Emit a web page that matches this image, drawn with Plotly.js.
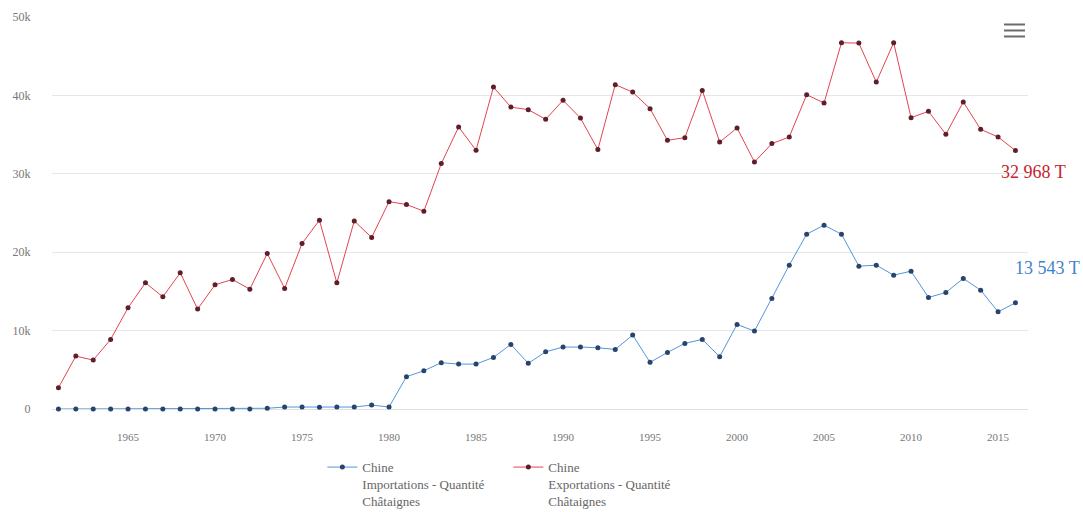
<!DOCTYPE html>
<html>
<head>
<meta charset="utf-8">
<script src="https://cdn.plot.ly/plotly-3.0.1.min.js"></script>
<style>
  html, body { margin: 0; padding: 0; background: #ffffff; }
  #chart { width: 1083px; height: 512px; }
</style>
</head>
<body>
<div id="chart"></div>
<script>
// Years covered by both series
const years = [
  1961, 1962, 1963, 1964, 1965, 1966, 1967, 1968, 1969, 1970,
  1971, 1972, 1973, 1974, 1975, 1976, 1977, 1978, 1979, 1980,
  1981, 1982, 1983, 1984, 1985, 1986, 1987, 1988, 1989, 1990,
  1991, 1992, 1993, 1994, 1995, 1996, 1997, 1998, 1999, 2000,
  2001, 2002, 2003, 2004, 2005, 2006, 2007, 2008, 2009, 2010,
  2011, 2012, 2013, 2014, 2015, 2016
];

// Chine – Importations, quantité de châtaignes (tonnes)
const importations = [
  0, 0, 0, 0, 0, 0, 0, 0, 0, 0,
  0, 0, 90, 250, 250, 210, 250, 250, 500, 250,
  4120, 4880, 5900, 5730, 5730, 6580, 8240, 5820, 7300, 7900,
  7900, 7810, 7600, 9430, 5950, 7220, 8370, 8880, 6670, 10790,
  9940, 14100, 18350, 22300, 23440, 22300, 18220, 18350, 17070, 17580,
  14230, 14860, 16650, 15160, 12400, 13543
];

// Chine – Exportations, quantité de châtaignes (tonnes)
const exportations = [
  2710, 6750, 6240, 8880, 12910, 16090, 14310, 17370, 12740, 15840,
  16520, 15290, 19840, 15380, 21110, 24080, 16090, 23990, 21880, 26450,
  26080, 25230, 31300, 35970, 33000, 41060, 38510, 38180, 36950, 39370,
  37110, 33090, 41370, 40420, 38310, 34270, 34610, 40640, 34050, 35840,
  31510, 33850, 34690, 40090, 39030, 46720, 46670, 41700, 46720, 37160,
  37970, 35040, 39160, 35670, 34690, 32968
];

const seriesNames = [
  'Chine<br>Importations - Quantité<br>Châtaignes',
  'Chine<br>Exportations - Quantité<br>Châtaignes'
];

const yTickVals = [0, 10000, 20000, 30000, 40000, 50000];
const yTickText = ['0', '10k', '20k', '30k', '40k', '50k'];
const xTickVals = [1965, 1970, 1975, 1980, 1985, 1990, 1995, 2000, 2005, 2010, 2015];

const serif = 'Liberation Serif, DejaVu Serif, serif';

function withSpaces(v) {
  return String(v).replace(/\B(?=(\d{3})+(?!\d))/g, ' ') + ' T';
}

const lastIdx = years.length - 1;

const traces = [
  {
    x: years, y: importations, name: seriesNames[0],
    type: 'scatter', mode: 'lines+markers', cliponaxis: false,
    line: { color: '#5296dc', width: 1 },
    marker: { color: '#26446c', size: 5 }
  },
  {
    x: years, y: exportations, name: seriesNames[1],
    type: 'scatter', mode: 'lines+markers', cliponaxis: false,
    line: { color: '#e4444e', width: 1 },
    marker: { color: '#5e1f2b', size: 5 }
  }
];

// Menu icon lines (top right)
const menuShapes = [0, 6, 12].map(function (d) {
  return {
    type: 'line', xref: 'paper', yref: 'paper',
    x0: (1004 - 52) / 976, x1: (1025 - 52) / 976,
    y0: (409 - (24 + d)) / 392.5, y1: (409 - (24 + d)) / 392.5,
    line: { color: '#6b6b6b', width: 2 }
  };
});

const layout = {
  width: 1083, height: 512,
  margin: { l: 52, r: 55, t: 16.5, b: 103, autoexpand: false },
  paper_bgcolor: '#ffffff', plot_bgcolor: '#ffffff',
  font: { family: serif, color: '#666666', size: 11 },
  showlegend: true,
  legend: {
    orientation: 'h', x: 0.277, xanchor: 'left', y: -0.11, yanchor: 'top',
    valign: 'top', entrywidth: 141, entrywidthmode: 'pixels',
    font: { family: serif, size: 13, color: '#666666' },
    bgcolor: 'rgba(0,0,0,0)'
  },
  xaxis: {
    range: [1960.63, 2016.72], tickvals: xTickVals,
    showgrid: false, zeroline: false, showline: false,
    ticks: 'outside', ticklen: 18, tickcolor: 'rgba(0,0,0,0)',
    tickfont: { family: serif, size: 11, color: '#777777' },
    fixedrange: true
  },
  yaxis: {
    range: [0, 50000], tickvals: yTickVals, ticktext: yTickText,
    showgrid: true, gridcolor: '#e6e6e6', gridwidth: 1,
    zeroline: true, zerolinecolor: '#e0e0e0', zerolinewidth: 1,
    showline: false,
    ticks: 'outside', ticklen: 18, tickcolor: 'rgba(0,0,0,0)',
    tickfont: { family: serif, size: 12, color: '#777777' },
    fixedrange: true
  },
  annotations: [
    {
      x: years[lastIdx], y: exportations[lastIdx], xref: 'x', yref: 'y',
      text: withSpaces(exportations[lastIdx]), showarrow: false,
      xshift: 18, yshift: -21,
      font: { family: serif, size: 18, color: '#c4242e' }
    },
    {
      x: years[lastIdx], y: importations[lastIdx], xref: 'x', yref: 'y',
      text: withSpaces(importations[lastIdx]), showarrow: false,
      xshift: 32, yshift: 35,
      font: { family: serif, size: 18, color: '#3f83c8' }
    }
  ],
  shapes: menuShapes
};

Plotly.newPlot('chart', traces, layout, { displayModeBar: false, staticPlot: true });
</script>
</body>
</html>
